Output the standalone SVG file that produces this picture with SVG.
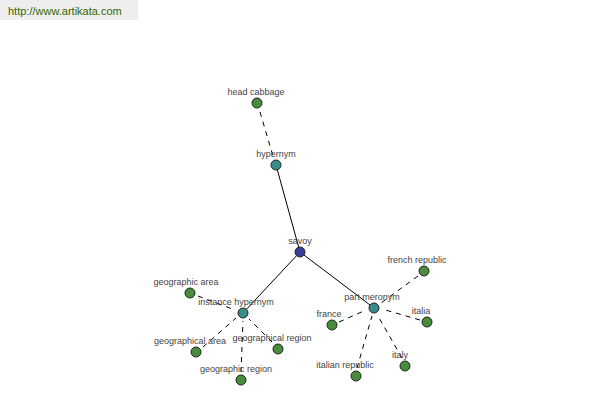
<svg xmlns="http://www.w3.org/2000/svg" width="600" height="400" viewBox="0 0 600 400">
<style>
text{font-family:"Liberation Sans",Arial,sans-serif;font-size:9px;fill:#444;text-anchor:middle}
.solid{stroke:#000;stroke-width:1;fill:none}
.dash{stroke:#000;stroke-width:1;fill:none;stroke-dasharray:5,5}
circle{stroke:#1a2a1a;stroke-width:1}
.leaf{fill:#4a8a3c}
.rel{fill:#3a8c8c}
.root{fill:#3c3c98}
</style>
<rect x="0" y="0" width="138" height="20" fill="#eeeeee"/>
<text x="8" y="15" style="text-anchor:start;font-size:11px;fill:#336600">http://www.artikata.com</text>
<g id="connectors">
<line class="solid" x1="300" y1="252" x2="276" y2="165"/>
<line class="solid" x1="300" y1="252" x2="243" y2="313"/>
<line class="solid" x1="300" y1="252" x2="374" y2="308"/>
<line class="dash" x1="260" y1="112" x2="273" y2="156"/>
<line class="dash" x1="198" y1="296" x2="235" y2="310"/>
<line class="dash" x1="203" y1="347" x2="236" y2="318"/>
<line class="dash" x1="272" y1="342" x2="249" y2="319"/>
<line class="dash" x1="241" y1="372" x2="243" y2="321"/>
<line class="dash" x1="418" y1="276" x2="381" y2="303"/>
<line class="dash" x1="339" y1="322" x2="366" y2="310"/>
<line class="dash" x1="420" y1="320" x2="382" y2="309"/>
<line class="dash" x1="357" y1="368" x2="372" y2="316"/>
<line class="dash" x1="402" y1="358" x2="378" y2="316"/>
</g>
<g id="savoy"><circle class="root" cx="300" cy="252" r="5"/><text x="300" y="244">savoy</text></g>
<g id="hypernym"><circle class="rel" cx="276" cy="165" r="5"/><text x="276" y="157">hypernym</text></g>
<g id="instance-hypernym"><circle class="rel" cx="243" cy="313" r="5"/><text x="236" y="305">instance hypernym</text></g>
<g id="part-meronym"><circle class="rel" cx="374" cy="308" r="5"/><text x="372" y="300">part meronym</text></g>
<g id="head-cabbage"><circle class="leaf" cx="257" cy="103" r="5"/><text x="256" y="95">head cabbage</text></g>
<g id="geographic-area"><circle class="leaf" cx="190" cy="293" r="5"/><text x="186" y="285">geographic area</text></g>
<g id="geographical-area"><circle class="leaf" cx="196" cy="352" r="5"/><text x="190" y="344">geographical area</text></g>
<g id="geographical-region"><circle class="leaf" cx="278" cy="349" r="5"/><text x="272" y="341">geographical region</text></g>
<g id="geographic-region"><circle class="leaf" cx="241" cy="380" r="5"/><text x="236" y="372">geographic region</text></g>
<g id="french-republic"><circle class="leaf" cx="424" cy="271" r="5"/><text x="417" y="263">french republic</text></g>
<g id="france"><circle class="leaf" cx="332" cy="325" r="5"/><text x="329" y="317">france</text></g>
<g id="italia"><circle class="leaf" cx="427" cy="322" r="5"/><text x="421" y="314">italia</text></g>
<g id="italian-republic"><circle class="leaf" cx="356" cy="376" r="5"/><text x="345" y="368">italian republic</text></g>
<g id="italy"><circle class="leaf" cx="405" cy="366" r="5"/><text x="400" y="358">italy</text></g>
</svg>
